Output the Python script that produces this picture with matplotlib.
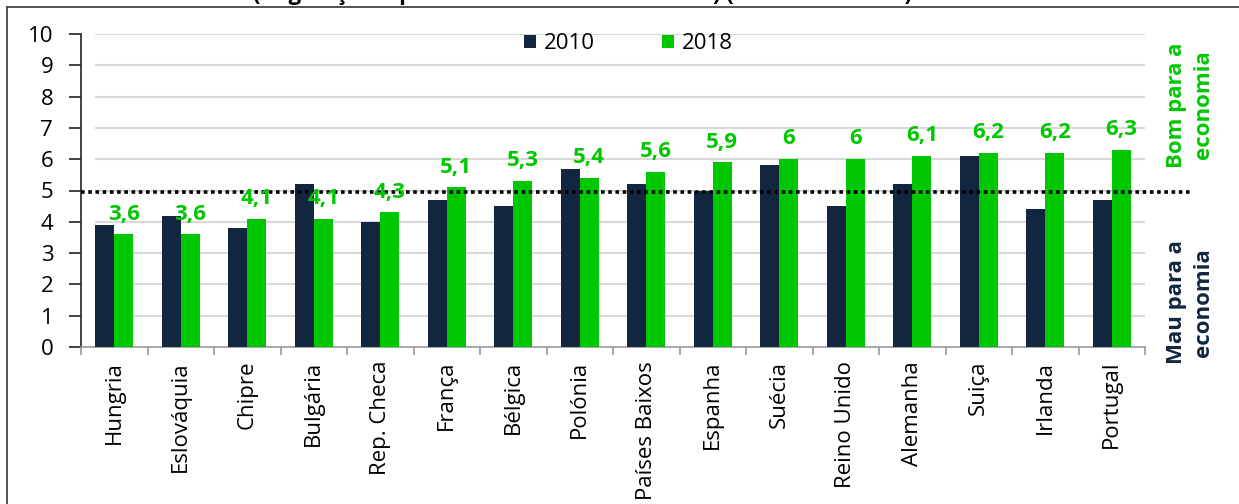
import numpy as np
import matplotlib
matplotlib.use("Agg")
import matplotlib.pyplot as plt
from matplotlib.lines import Line2D

plt.rcParams['font.family'] = ['Open Sans', 'DejaVu Sans']

# scores per country, 0-10 scale
paises = ['Hungria', 'Eslováquia', 'Chipre', 'Bulgária', 'Rep. Checa', 'França',
          'Bélgica', 'Polónia', 'Países Baixos', 'Espanha', 'Suécia', 'Reino Unido',
          'Alemanha', 'Suiça', 'Irlanda', 'Portugal']
v2010 = [3.9, 4.2, 3.8, 5.2, 4.0, 4.7, 4.5, 5.7, 5.2, 5.0, 5.8, 4.5, 5.2, 6.1, 4.4, 4.7]
v2018 = [3.6, 3.6, 4.1, 4.1, 4.3, 5.1, 5.3, 5.4, 5.6, 5.9, 6.0, 6.0, 6.1, 6.2, 6.2, 6.3]
anos = ['2010', '2018']
limiar = 4.95
yticks = list(range(0, 11))

AZUL = '#13263f'
VERDE = '#00c800'

fig = plt.figure(figsize=(12.39, 5.04), dpi=100)
ax = fig.add_axes([81 / 1239, 1 - 347 / 504, 1064 / 1239, 313 / 504])

x = np.arange(len(paises))
w = 0.286
ax.bar(x - w / 2, v2010, w, color=AZUL, label=anos[0], zorder=3)
ax.bar(x + w / 2, v2018, w, color=VERDE, label=anos[1], zorder=3)

# value labels over the 2018 bars
for xi, v in zip(x, v2018):
    ax.annotate(f"{v:g}".replace('.', ','), (xi + w / 2, v), xytext=(0, 7),
                textcoords='offset points', ha='center', va='bottom',
                color=VERDE, fontsize=16, fontweight='bold', zorder=5)

# gridlines start at the first bar
ax.hlines(yticks[1:], -w, len(paises) - 0.5, color='#d9d9d9', lw=1.5, zorder=1)

# neutral line, runs out into the right margin
ax.plot([0, 1.045], [limiar, limiar], transform=ax.get_yaxis_transform(),
        color='black', lw=2.6, linestyle=(0, (1, 1)), clip_on=False, zorder=4)

ax.set_xlim(-0.5, len(paises) - 0.5)
ax.set_ylim(0, 10)
ax.set_yticks(yticks)
ax.tick_params(axis='y', length=9, width=1.2, pad=11, labelsize=16, color='#222222')
ax.set_xticks(x)
ax.set_xticklabels(paises, rotation=90, fontsize=16)
ax.tick_params(axis='x', which='major', length=0, pad=10)
ax.set_xticks(np.arange(-0.5, len(paises)), minor=True)
ax.tick_params(axis='x', which='minor', length=6, width=1.2, color='#999999')

for s in ['top', 'right']:
    ax.spines[s].set_visible(False)
ax.spines['left'].set_color('#222222')
ax.spines['left'].set_linewidth(1.2)
ax.spines['bottom'].set_color('#999999')
ax.spines['bottom'].set_linewidth(1.2)

fig.legend(loc='center', bbox_to_anchor=(0.507, 0.913), ncol=2, frameon=False,
           fontsize=16, handlelength=0.55, handleheight=0.55, handletextpad=0.35,
           columnspacing=3.0)

fig.text(0.9605, 0.792, 'Bom para a\neconomia', rotation=90, ha='center', va='center',
         multialignment='center', color=VERDE, fontsize=16, fontweight='bold',
         linespacing=1.35)
fig.text(0.9605, 0.40, 'Mau para a\neconomia', rotation=90, ha='center', va='center',
         multialignment='center', color=AZUL, fontsize=16, fontweight='bold',
         linespacing=1.35)

# title sits above the frame
fig.text(0.47, 1.0, '(Regulação e peso do Estado na economia) (escala de 0 a 10)',
         ha='center', va='baseline', fontsize=16, fontweight='bold')

# frame around the chart
fig.add_artist(Line2D([7 / 1239, 7 / 1239], [0, 1 - 7 / 504], transform=fig.transFigure,
                      color='#444444', lw=1.3))
fig.add_artist(Line2D([7 / 1239, 1], [1 - 7 / 504, 1 - 7 / 504], transform=fig.transFigure,
                      color='#444444', lw=1.3))

fig.savefig('out.png', dpi=100)
